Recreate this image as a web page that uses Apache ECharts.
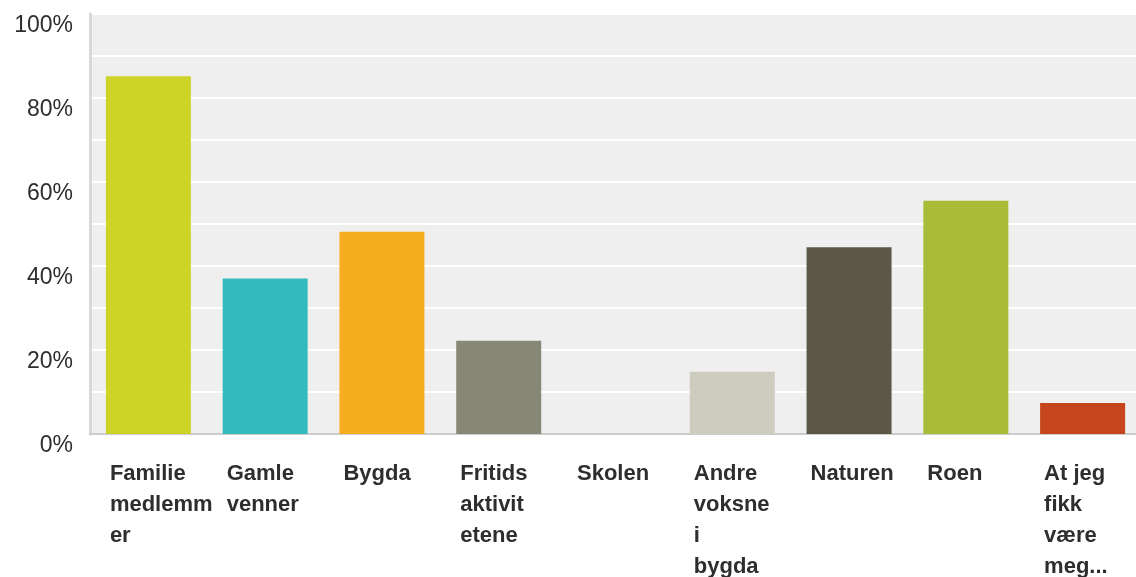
<!DOCTYPE html>
<html>
<head>
<meta charset="utf-8">
<script src="https://cdn.jsdelivr.net/npm/echarts@6/dist/echarts.min.js"></script>
<style>
  html, body { margin: 0; padding: 0; background: #fff; }
  #chart { width: 1136px; height: 577px; }
</style>
</head>
<body>
<div id="chart"></div>
<script>
// kategorier og andeler (%)
const categories = [
  'Familie\nmedlemm\ner', 'Gamle\nvenner', 'Bygda', 'Fritids\naktivit\netene', 'Skolen',
  'Andre\nvoksne\ni\nbygda', 'Naturen', 'Roen', 'At jeg\nfikk\nvære\nmeg...'
]
const values = [85.19, 37.04, 48.15, 22.22, 0, 14.81, 44.44, 55.56, 7.41]
const barColors = ['#cdd427', '#32bbbd', '#f6ae1f', '#878777', '#878777', '#cdccbf', '#5b5848', '#a8bc37', '#c6451c']
const yTicks = [0, 20, 40, 60, 80, 100]

const chart = echarts.init(document.getElementById('chart'))

chart.setOption({
  animation: false,
  textStyle: { fontFamily: 'Liberation Sans, Arial, sans-serif' },
  grid: {
    left: 90, top: 14, width: 1051, height: 420,
    outerBoundsMode: 'none',
    containLabel: false,
    show: true, backgroundColor: '#efefef', borderWidth: 0
  },
  xAxis: {
    type: 'category',
    data: categories,
    axisTick: { show: false },
    axisLine: { lineStyle: { color: '#cccccc', width: 2 } },
    axisLabel: {
      interval: 0,
      margin: 24,
      verticalAlign: 'top',
      formatter: v => '{a|' + v.split('\n').join('}\n{a|') + '}',
      rich: {
        a: {
          width: 77, align: 'left', lineHeight: 31,
          fontSize: 22, fontWeight: 'bold', color: '#2e2e2e',
          fontFamily: 'Liberation Sans, Arial, sans-serif'
        }
      }
    }
  },
  yAxis: {
    type: 'value',
    min: 0, max: 100, interval: 10,
    axisLine: { show: true, lineStyle: { color: '#d9d9d9', width: 3 } },
    axisTick: { show: false },
    splitLine: { lineStyle: { color: '#ffffff', width: 2 } },
    axisLabel: {
      margin: 17,
      fontSize: 23,
      color: '#2e2e2e',
      verticalAlign: 'top',
      formatter: v => (yTicks.includes(v) ? v + '%' : '')
    }
  },
  series: [{
    type: 'bar',
    data: values.map((v, i) => ({ value: v, itemStyle: { color: barColors[i] } })),
    barWidth: 85
  }]
})
</script>
</body>
</html>
